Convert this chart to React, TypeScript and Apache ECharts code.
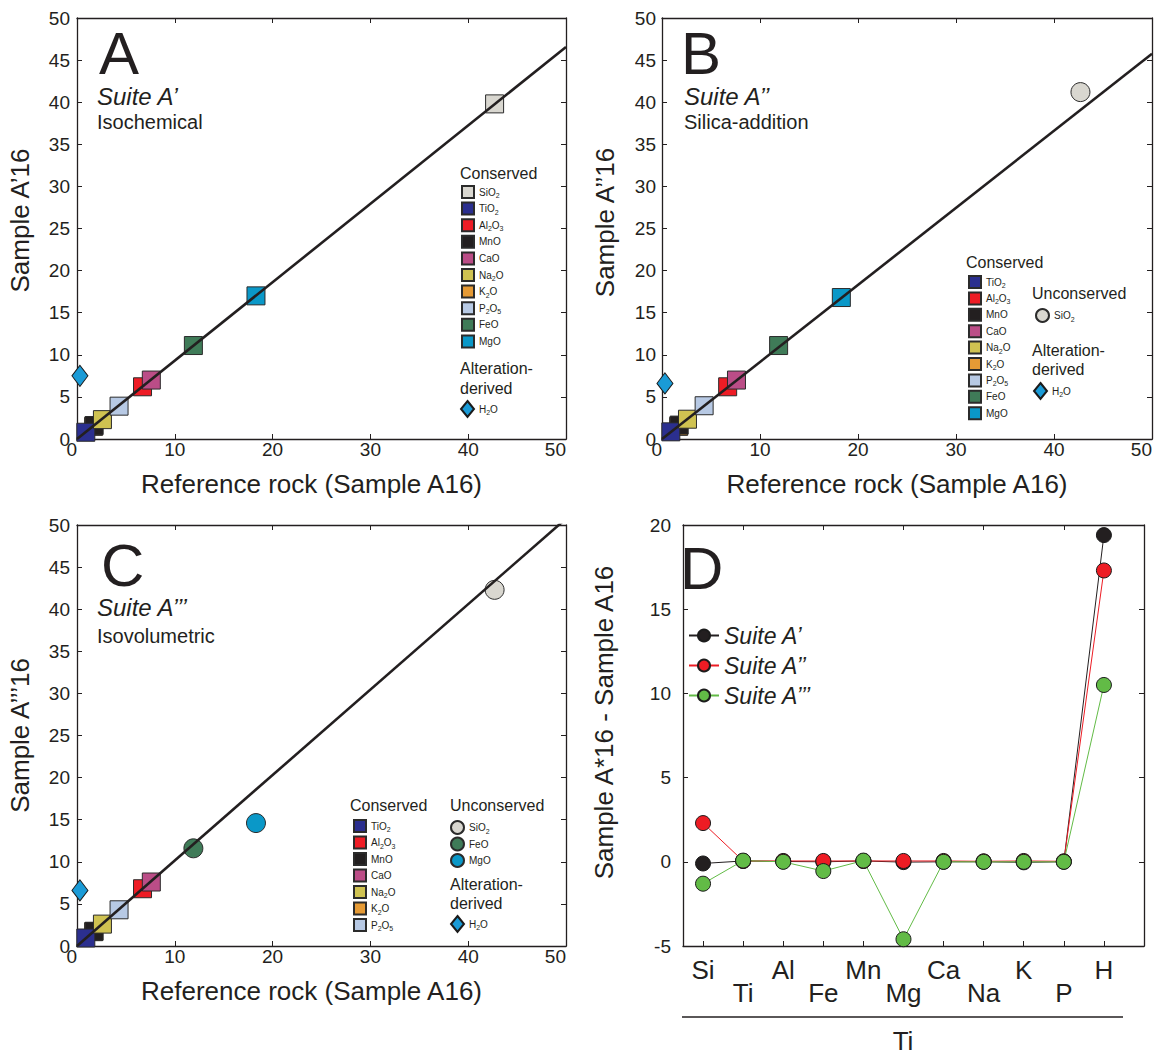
import React, { useEffect, useRef } from 'react';
import * as echarts from 'echarts';

const FONT = '"Liberation Sans", Arial, Helvetica, sans-serif';
const INK = '#231f20';

// Oxides in the isocon panels, in legend order
const oxides = ['SiO2', 'TiO2', 'Al2O3', 'MnO', 'CaO', 'Na2O', 'K2O', 'P2O5', 'FeO', 'MgO'];
const oxideColors = ['#d9d7d0', '#2b2f8f', '#ee1c25', '#231f20', '#bb4d87', '#cfc251', '#e59a35', '#b7c9e4', '#3f7b58', '#0a98c8'];
// stacking order of the small overlapping markers (last one on top)
const drawOrder = ['K2O', 'MnO', 'TiO2', 'Na2O', 'P2O5', 'Al2O3', 'CaO', 'FeO', 'MgO', 'SiO2'];

// wt.% of the reference rock (Sample A16) and the three altered suites
const referenceA16 = [42.7, 0.9, 6.7, 1.75, 7.6, 2.6, 1.7, 4.3, 11.9, 18.3];
const suiteA1 = [39.8, 0.8, 6.2, 1.6, 7.0, 2.3, 1.5, 3.9, 11.1, 17.0];
const suiteA2 = [41.2, 0.85, 6.2, 1.65, 7.0, 2.35, 1.5, 3.95, 11.1, 16.8];
const suiteA3 = [42.3, 0.95, 6.8, 1.75, 7.6, 2.6, 1.7, 4.3, 11.6, 14.6];

// H2O (alteration-derived)
const h2oReference = 0.3;
const h2oSamples = [7.5, 6.6, 6.6];

// isocon slopes for A', A'' and A'''
const isoconSlopes = [0.931, 0.915, 1.015];

// Panel D: element gains/losses
const elements = ['Si', 'Ti', 'Al', 'Fe', 'Mn', 'Mg', 'Ca', 'Na', 'K', 'P', 'H'];
const suiteNames = ['Suite A’', 'Suite A’’', 'Suite A’’’'];
const diffA1 = [-0.1, 0.05, 0.02, 0.0, 0.05, -0.02, 0.0, 0.0, -0.03, 0.0, 19.4];
const diffA2 = [2.3, 0.05, 0.05, 0.05, 0.05, 0.05, 0.05, 0.03, 0.05, 0.03, 17.3];
const diffA3 = [-1.3, 0.07, 0.0, -0.55, 0.07, -4.6, 0.0, 0.0, 0.0, 0.0, 10.5];
const diffColors = ['#231f20', '#ed1c24', '#62bb46'];

const panels = [
  { key: 'A', samples: suiteA1, unconserved: [] as string[], yName: 'Sample A’16', suite: 'Suite A’', subtitle: 'Isochemical' },
  { key: 'B', samples: suiteA2, unconserved: ['SiO2'], yName: 'Sample A’’16', suite: 'Suite A’’', subtitle: 'Silica-addition' },
  { key: 'C', samples: suiteA3, unconserved: ['SiO2', 'FeO', 'MgO'], yName: 'Sample A’’’16', suite: 'Suite A’’’', subtitle: 'Isovolumetric' },
];

const grids = [
  { left: 77, top: 18, width: 489, height: 421 },
  { left: 662, top: 18, width: 490, height: 421 },
  { left: 77, top: 525, width: 489, height: 421 },
  { left: 683, top: 525, width: 461, height: 421 },
];

const yLabelMargins = [7, 6, 7];
const yNamePads = [16, 12, 0];

const chem = (f: string) =>
  f.replace(/([A-Za-z]+)|(\d+)/g, (_m: string, a: string, d: string) => (a ? `{n|${a}}` : `{s|${d}}`));

const chemRich = {
  n: { fontFamily: FONT, fontSize: 10, lineHeight: 14, color: INK },
  s: { fontFamily: FONT, fontSize: 7, lineHeight: 7, verticalAlign: 'bottom', color: INK },
};

const axisLine = { show: true, onZero: false, lineStyle: { color: INK, width: 1.3 } };
const tickIn = { show: true, inside: true, length: 5, lineStyle: { color: INK, width: 1 } };
const tickFont = { fontFamily: FONT, fontSize: 19, color: INK };
const nameFont = { fontFamily: FONT, fontSize: 26, color: INK };

function oxLegend(key: string, names: string[], left: number, top: number, gap: number, textGap: number, w: number, h: number) {
  return {
    orient: 'vertical',
    left,
    top,
    padding: 0,
    itemGap: gap,
    itemTextGap: textGap,
    itemWidth: w,
    itemHeight: h,
    selectedMode: false,
    data: names.map((n) => `${key}|${n}`),
    formatter: (name: string) => chem(name.split('|')[1]),
    textStyle: { rich: chemRich, fontFamily: FONT, fontSize: 10, color: INK },
  };
}

function txt(x: number, y: number, text: string, fontSize: number, extra: Record<string, any> = {}) {
  return {
    type: 'text',
    x,
    y,
    silent: true,
    style: { text, fontSize, fontFamily: FONT, fill: INK, align: 'left', verticalAlign: 'middle', ...extra },
  };
}

function buildOption() {
  const xAxis: any[] = [];
  const yAxis: any[] = [];
  const series: any[] = [];

  panels.forEach((p, pi) => {
    xAxis.push({
      type: 'value', gridIndex: pi, min: 0, max: 50, interval: 10, position: 'bottom',
      axisLine, axisTick: tickIn, splitLine: { show: false },
      axisLabel: { margin: 1, alignMinLabel: 'right', alignMaxLabel: 'right', ...tickFont },
      name: 'Reference rock (Sample A16)', nameLocation: 'middle', nameGap: 32,
      nameTextStyle: { ...nameFont, padding: [0, 20, 0, 0] },
    });
    xAxis.push({
      type: 'value', gridIndex: pi, min: 0, max: 50, interval: 10, position: 'top',
      axisLine, axisTick: tickIn, splitLine: { show: false }, axisLabel: { show: false },
    });
    yAxis.push({
      type: 'value', gridIndex: pi, min: 0, max: 50, interval: 5, position: 'left',
      axisLine, axisTick: tickIn, splitLine: { show: false },
      axisLabel: { margin: yLabelMargins[pi], ...tickFont },
      name: p.yName, nameLocation: 'middle', nameGap: 44,
      nameTextStyle: { ...nameFont, padding: [0, 0, 0, yNamePads[pi]] },
    });
    yAxis.push({
      type: 'value', gridIndex: pi, min: 0, max: 50, interval: 5, position: 'right',
      axisLine, axisTick: tickIn, splitLine: { show: false }, axisLabel: { show: false },
    });

    // isocon through the origin
    series.push({
      type: 'line', name: `${p.key}|isocon`, xAxisIndex: 2 * pi, yAxisIndex: 2 * pi,
      data: [[0, 0], [50, 50 * isoconSlopes[pi]]],
      showSymbol: false, symbol: 'none', clip: true, silent: true,
      lineStyle: { color: INK, width: 2.6 },
    });

    drawOrder.forEach((ox) => {
      const i = oxides.indexOf(ox);
      const open = p.unconserved.includes(ox);
      series.push({
        type: 'scatter', name: `${p.key}|${ox}`, xAxisIndex: 2 * pi, yAxisIndex: 2 * pi,
        data: [[referenceA16[i], p.samples[i]]],
        symbol: open ? 'circle' : 'rect',
        symbolSize: open ? 19 : 18,
        itemStyle: { color: oxideColors[i], borderColor: '#2b2b2b', borderWidth: 1, opacity: 1 },
      });
    });

    series.push({
      type: 'scatter', name: `${p.key}|H2O`, xAxisIndex: 2 * pi, yAxisIndex: 2 * pi,
      data: [[h2oReference, h2oSamples[pi]]],
      symbol: 'diamond', symbolSize: [16, 21],
      itemStyle: { color: '#1a9bd7', borderColor: '#1b1b1b', borderWidth: 1, opacity: 1 },
    });
  });

  // Panel D
  const idx = elements.map((_e, i) => i);
  xAxis.push({
    type: 'value', gridIndex: 3, min: -0.5, max: 11, position: 'bottom',
    axisLine, splitLine: { show: false },
    axisTick: { ...tickIn, customValues: idx },
    axisLabel: {
      customValues: idx, margin: 12, fontFamily: FONT, fontSize: 26, lineHeight: 23, color: INK,
      formatter: (v: number) => (v % 2 === 1 ? '\n' : '') + elements[Math.round(v)],
    },
  });
  xAxis.push({
    type: 'value', gridIndex: 3, min: -0.5, max: 11, position: 'top',
    axisLine, splitLine: { show: false },
    axisTick: { ...tickIn, customValues: [1, 3, 5, 7, 9] },
    axisLabel: { show: false },
  });
  yAxis.push({
    type: 'value', gridIndex: 3, min: -5, max: 20, interval: 5, position: 'left',
    axisLine, axisTick: tickIn, splitLine: { show: false },
    axisLabel: { margin: 12, ...tickFont },
    name: 'Sample A*16 - Sample A16', nameLocation: 'middle', nameGap: 66,
    nameTextStyle: { ...nameFont, padding: [0, 0, 0, 26] },
  });
  yAxis.push({
    type: 'value', gridIndex: 3, min: -5, max: 20, interval: 5, position: 'right',
    axisLine, axisTick: tickIn, splitLine: { show: false }, axisLabel: { show: false },
  });

  [diffA1, diffA2, diffA3].forEach((vals, si) => {
    series.push({
      type: 'line', name: suiteNames[si], xAxisIndex: 6, yAxisIndex: 6,
      data: vals.map((v, i) => [i, v]),
      symbol: 'circle', symbolSize: 15, showSymbol: true,
      lineStyle: { color: diffColors[si], width: 1 },
      itemStyle: { color: diffColors[si], borderColor: '#1b1b1b', borderWidth: 1 },
    });
  });

  const conserved = (p: (typeof panels)[number]) => oxides.filter((o) => !p.unconserved.includes(o));

  const legend = [
    oxLegend('A', conserved(panels[0]), 461, 185, 2.6, 7, 12, 12),
    oxLegend('A', ['H2O'], 460, 400, 2, 6, 13, 16),
    oxLegend('B', conserved(panels[1]), 968, 275, 2.4, 6, 12, 12),
    oxLegend('B', panels[1].unconserved, 1035, 308, 2, 5, 13, 13),
    oxLegend('B', ['H2O'], 1033, 382, 2, 5, 13, 16),
    oxLegend('C', conserved(panels[2]), 353, 819, 2.5, 6, 12, 12),
    oxLegend('C', panels[2].unconserved, 450, 820, 1.5, 6, 13, 13),
    oxLegend('C', ['H2O'], 450, 915, 2, 5, 13, 16),
    {
      orient: 'vertical', left: 688, top: 624, padding: 0, itemGap: 7, itemTextGap: 11,
      itemWidth: 30, itemHeight: 15, selectedMode: false, data: suiteNames,
      textStyle: { fontFamily: FONT, fontSize: 23, fontStyle: 'italic', lineHeight: 23, color: INK },
    },
  ];

  const graphic = [
    txt(99, 53, 'A', 60),
    txt(97, 96, 'Suite A’', 24, { fontStyle: 'italic' }),
    txt(97, 122, 'Isochemical', 20),
    txt(460, 173, 'Conserved', 16),
    txt(460, 368, 'Alteration-', 16),
    txt(460, 388, 'derived', 16),

    txt(681, 53, 'B', 60),
    txt(684, 96, 'Suite A’’', 24, { fontStyle: 'italic' }),
    txt(684, 122, 'Silica-addition', 20),
    txt(966, 262, 'Conserved', 16),
    txt(1032, 293, 'Unconserved', 16),
    txt(1032, 350, 'Alteration-', 16),
    txt(1032, 369, 'derived', 16),

    txt(101, 565, 'C', 60),
    txt(97, 607, 'Suite A’’’', 24, { fontStyle: 'italic' }),
    txt(97, 636, 'Isovolumetric', 20),
    txt(350, 805, 'Conserved', 16),
    txt(450, 805, 'Unconserved', 16),
    txt(450, 884, 'Alteration-', 16),
    txt(450, 903, 'derived', 16),

    txt(680, 568, 'D', 60),
    {
      type: 'line', silent: true,
      shape: { x1: 682, y1: 1017, x2: 1123, y2: 1017 },
      style: { stroke: INK, lineWidth: 1.5 },
    },
    txt(903, 1041, 'Ti', 26, { align: 'center' }),
  ];

  return {
    animation: false,
    backgroundColor: '#ffffff',
    textStyle: { fontFamily: FONT },
    grid: grids.map((g) => ({ ...g, containLabel: false, outerBoundsMode: 'none' })),
    xAxis,
    yAxis,
    legend,
    series,
    graphic,
  };
}

export default function App() {
  const ref = useRef<HTMLDivElement>(null);
  useEffect(() => {
    if (!ref.current) return;
    const chart = echarts.init(ref.current, null, { renderer: 'svg' });
    chart.setOption(buildOption() as any);
    return () => chart.dispose();
  }, []);
  return (
    <div
      ref={ref}
      style={{ position: 'fixed', left: 0, top: 0, width: 1157, height: 1055, background: '#fff' }}
    />
  );
}
